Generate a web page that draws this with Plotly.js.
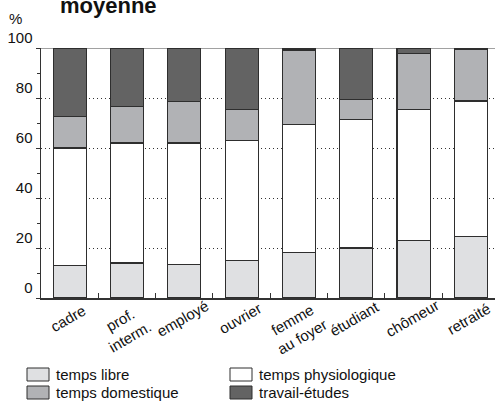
<!DOCTYPE html>
<html><head><meta charset="utf-8">
<script src="https://cdn.plot.ly/plotly-3.0.1.min.js"></script>
<style>html,body{margin:0;padding:0;background:#fff;}#chart{width:496px;height:401px;}</style>
</head><body><div id="chart"></div>
<script>
const categories = ["cadre", "prof.<br>interm.", "employé", "ouvrier", "femme<br>au foyer", "étudiant", "chômeur", "retraité"];
const tempsLibre = [13, 14, 13.5, 15, 18.2, 20, 23, 24.6];
const tempsPhysio = [47, 48, 48.5, 48, 51.2, 51.3, 52.3, 54.2];
const tempsDomestique = [12.5, 14.5, 16.5, 12.5, 29.8, 8, 22.6, 20.7];
const travailEtudes = [27.5, 23.5, 21.5, 24.5, 0.8, 20.7, 2.1, 0.5];
const seriesNames = ["temps libre", "temps physiologique", "temps domestique", "travail-études"];
const seriesColors = ["#dfe0e2", "#ffffff", "#b1b2b5", "#636363"];
const yTickVals = [0, 20, 40, 60, 80, 100];

const FONT = "Liberation Sans, Arial, sans-serif";
const L = 41, R = 1, T = 48, B = 103, W = 496, H = 401;
const pw = W - L - R, ph = H - T - B;
const px = x => (x - L) / pw;
const py = y => (H - B - y) / ph;

const seriesData = [tempsLibre, tempsPhysio, tempsDomestique, travailEtudes];
const traces = seriesData.map((vals, i) => ({
  type: "bar", x: categories, y: vals, name: seriesNames[i],
  marker: {color: seriesColors[i], line: {color: "#2e2e2e", width: 1.2}},
  hoverinfo: "skip", showlegend: false
}));

const shapes = [{type: "line", xref: "paper", yref: "y", x0: 0, x1: 1, y0: 100, y1: 100,
  line: {color: "#444", width: 1.2}, layer: "below"}];
const annotations = [
  {text: "<b>moyenne</b>", xref: "paper", yref: "paper", x: px(58), y: py(5), xanchor: "left", yanchor: "middle",
   showarrow: false, font: {family: FONT, size: 22, color: "#111"}},
  {text: "%", xref: "paper", yref: "paper", x: px(15), y: py(19), xanchor: "center", yanchor: "middle",
   showarrow: false, font: {family: FONT, size: 15, color: "#111"}}
];
// category labels, rotated about their centre
categories.forEach((c) => {
  const nLines = c.split("<br>").length;
  annotations.push({text: c, xref: "x", yref: "paper", x: c, y: py(318 + (nLines - 1) * 10),
    xanchor: "center", yanchor: "middle", textangle: -30, align: "center", xshift: -2, showarrow: false,
    font: {family: FONT, size: 15, color: "#111"}});
});
// manual legend (2 columns x 2 rows)
const legendPos = [[27, 368], [230, 368], [27, 386], [230, 386]];
legendPos.forEach((p, i) => {
  shapes.push({type: "rect", xref: "paper", yref: "paper", x0: px(p[0]), x1: px(p[0] + 22), y0: py(p[1]), y1: py(p[1] + 13),
    fillcolor: seriesColors[i], line: {color: "#2e2e2e", width: 1}});
  annotations.push({text: seriesNames[i], xref: "paper", yref: "paper", x: px(p[0] + 27), y: py(p[1] + 6.5),
    xanchor: "left", yanchor: "middle", showarrow: false, font: {family: FONT, size: 15, color: "#111"}});
});

const layout = {
  width: W, height: H, autosize: false,
  margin: {l: L, r: R, t: T, b: B, pad: 0},
  paper_bgcolor: "#fff", plot_bgcolor: "#fff",
  barmode: "stack", bargap: 0.424,
  font: {family: FONT, size: 15, color: "#111"},
  showlegend: false,
  xaxis: {type: "category", range: [-0.5, 7.42], showgrid: false, showline: true, linecolor: "#333", linewidth: 1.5,
    ticks: "inside", tickson: "boundaries", ticklen: 5, tickcolor: "#333", showticklabels: false, fixedrange: true},
  yaxis: {range: [0, 100], tickvals: yTickVals, showline: true, linecolor: "#333", linewidth: 1.5,
    ticks: "outside", ticklen: 4, tickcolor: "#333", showgrid: true, gridcolor: "#333", griddash: "1px,3px", gridwidth: 1,
    zeroline: false, ticklabelshift: -10, tickfont: {family: FONT, size: 15, color: "#111"},
    minor: {dtick: 10, ticks: "outside", ticklen: 3, tickcolor: "#333", showgrid: false}, fixedrange: true},
  shapes: shapes, annotations: annotations
};
Plotly.newPlot("chart", traces, layout, {displayModeBar: false, staticPlot: true});
</script></body></html>
